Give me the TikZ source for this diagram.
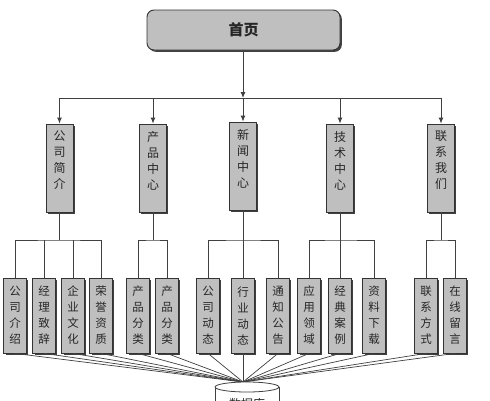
\documentclass[tikz,border=0pt]{standalone}
\usepackage{fontspec}
\newfontfamily\cjk{Noto Sans CJK SC}
\usetikzlibrary{arrows.meta,shadows}
\begin{document}
\begin{tikzpicture}[x=1pt,y=-1pt,
  shad/.style={drop shadow={shadow xshift=1.8pt,shadow yshift=-1.8pt,fill=black!75,opacity=1}},
  topbox/.style={draw=black!80,line width=0.9pt,fill=black!25,rounded corners=7pt,shad,
    minimum width=193pt,minimum height=40pt,inner sep=0pt,font=\cjk\bfseries\fontsize{15}{18}\selectfont,text=black!85},
  midbox/.style={draw=black!80,line width=0.8pt,fill=black!25,shad,minimum width=27pt,minimum height=88pt,inner sep=0pt},
  midtext/.style={inner sep=0pt,align=center,font=\cjk\fontsize{12}{16}\selectfont,text=black!85},
  leafbox/.style={draw=black!80,line width=0.8pt,fill=black!25,shad,minimum width=22.5pt,minimum height=75pt,inner sep=0pt,
    align=center,font=\cjk\fontsize{11.5}{16}\selectfont,text=black!85},
  conn/.style={draw=black!75,line width=0.9pt},
  arr/.style={conn,-{Latex[length=6pt,width=5pt]}},
  fan/.style={draw=black!75,line width=0.7pt}]
\useasboundingbox (0,0) rectangle (490,400);
\clip (0,0) rectangle (490,400);
\fill[white] (0,0) rectangle (490,400);

% top
\node[topbox] (top) at (243.5,30) {首页};

% level 2
\node[midbox] (n1) at (59.5,168) {};
\node[midbox] (n2) at (153,168) {};
\node[midbox] (n3) at (243,166) {};
\node[midbox] (n4) at (340,168) {};
\node[midbox] (n5) at (441,168) {};
\node[midtext] (t1) at (59.5,160.5) {公\\司\\简\\介};
\node[midtext] (t2) at (153,160.5) {产\\品\\中\\心};
\node[midtext] (t3) at (243,158.5) {新\\闻\\中\\心};
\node[midtext] (t4) at (340,160.5) {技\\术\\中\\心};
\node[midtext] (t5) at (441,160.5) {联\\系\\我\\们};

% bus
\coordinate (bc) at (243,98);
\coordinate (b1) at (59.5,98);
\coordinate (b2) at (153,98);
\coordinate (b4) at (340,98);
\coordinate (b5) at (441,98);
\draw[conn] (b1) -- (b5);
\draw[arr] (top.south -| bc) -- (bc);
\draw[arr] (bc) -- (bc |- n3.north);
\draw[arr] (b1) -- (b1 |- n1.north);
\draw[arr] (b2) -- (b2 |- n2.north);
\draw[arr] (b4) -- (b4 |- n4.north);
\draw[arr] (b5) -- (b5 |- n5.north);

% leaves
\node[leafbox] (c11) at (15,315.5) {公\\司\\介\\绍};
\node[leafbox] (c12) at (44,315.5) {经\\理\\致\\辞};
\node[leafbox] (c13) at (73,315.5) {企\\业\\文\\化};
\node[leafbox] (c14) at (101,315.5) {荣\\誉\\资\\质};
\node[leafbox] (c21) at (138,315.5) {产\\品\\分\\类};
\node[leafbox] (c22) at (167,315.5) {产\\品\\分\\类};
\node[leafbox] (c31) at (208,315.5) {公\\司\\动\\态};
\node[leafbox] (c32) at (243,315.5) {行\\业\\动\\态};
\node[leafbox] (c33) at (278,315.5) {通\\知\\公\\告};
\node[leafbox] (c41) at (309,315.5) {应\\用\\领\\域};
\node[leafbox] (c42) at (340,315.5) {经\\典\\案\\例};
\node[leafbox] (c43) at (374,315.5) {资\\料\\下\\载};
\node[leafbox] (c51) at (426,315.5) {联\\系\\方\\式};
\node[leafbox] (c52) at (455,315.5) {在\\线\\留\\言};

% sub buses
\coordinate (j1) at (59.5,240);
\coordinate (j2) at (153,240);
\coordinate (j3) at (243,240);
\coordinate (j4) at (340,240);
\coordinate (j5) at (441,240);
\draw[conn] (n1.south) -- (j1);
\draw[conn] (c11.north) |- (j1) -| (c14.north);
\draw[conn] (c12.north) -- (c12.north |- j1);
\draw[conn] (c13.north) -- (c13.north |- j1);
\draw[conn] (n2.south) -- (j2);
\draw[conn] (c21.north) |- (j2) -| (c22.north);
\draw[conn] (n3.south) -- (c32.north);
\draw[conn] (c31.north) |- (j3) -| (c33.north);
\draw[conn] (n4.south) -- (c42.north);
\draw[conn] (c41.north) |- (j4) -| (c43.north);
\draw[conn] (n5.south) -- (j5);
\draw[conn] (c51.north) |- (j5) -| (c52.north);

% database
\coordinate (db) at (243,382);
\foreach \c in {c11,c12,c13,c14,c21,c22,c31,c32,c33,c41,c42,c43,c51,c52}
  \draw[fan] (\c.south) -- (db);
\path[fill=white,draw=black!75,line width=0.8pt] (215,387) -- (215,410) -- (279,410) -- (279,387);
\draw[fill=white,draw=black!75,line width=0.8pt] (247,387) ellipse [x radius=32pt,y radius=5pt];
\node[inner sep=0pt,font=\cjk\fontsize{12}{14}\selectfont,text=black!85] (dbl) at (247,404) {数据库};
\end{tikzpicture}
\end{document}
